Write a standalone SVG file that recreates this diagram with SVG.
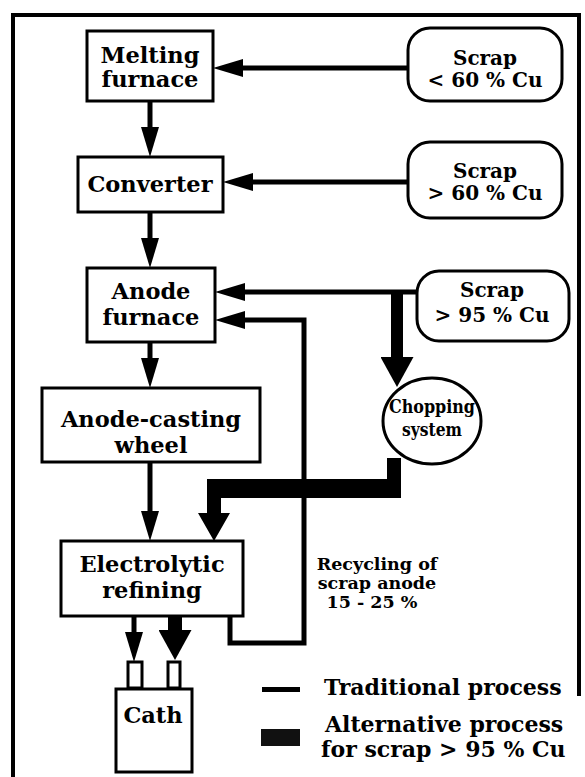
<svg xmlns="http://www.w3.org/2000/svg" width="585" height="777" viewBox="0 0 585 777">
<style>
.box{fill:#fff;stroke:#000;stroke-width:3}
.t{font-family:"DejaVu Serif","Liberation Serif",serif;font-weight:bold;fill:#000;text-anchor:middle}
.b{font-size:22.5px}
.s{font-size:20px}
.c{font-size:19px}
.r{font-size:17.5px}
.l{font-size:22px;text-anchor:start}
.thin{fill:none;stroke:#000;stroke-width:5;stroke-linejoin:miter}
.thick{fill:none;stroke:#000;stroke-width:14}
</style>
<defs>
<marker id="ah" viewBox="0 0 30 18" refX="2" refY="9" markerWidth="30" markerHeight="18" markerUnits="userSpaceOnUse" orient="auto"><path d="M0,0 L30,9 L0,18 Z" fill="#000"/></marker>
<marker id="ahk" viewBox="0 0 30 33" refX="2" refY="16.5" markerWidth="30" markerHeight="33" markerUnits="userSpaceOnUse" orient="auto"><path d="M0,0 L30,16.5 L0,33 Z" fill="#000"/></marker>
</defs>
<rect width="585" height="777" fill="#fff"/>
<path d="M13,777 V15 H579 V696" fill="none" stroke="#000" stroke-width="4"/>

<g id="connectors">
<path class="thin" d="M408,68 H241" marker-end="url(#ah)"/>
<path class="thin" d="M150,101 V129" marker-end="url(#ah)"/>
<path class="thin" d="M408,182 H251" marker-end="url(#ah)"/>
<path class="thin" d="M150,212 V240" marker-end="url(#ah)"/>
<path class="thin" d="M417,292 H243" marker-end="url(#ah)"/>
<path class="thin" d="M230,616 V643 H304 V320 H243" marker-end="url(#ah)"/>
<path class="thin" d="M150,342 V360" marker-end="url(#ah)"/>
<path class="thin" d="M150,462 V513" marker-end="url(#ah)"/>
<path class="thin" d="M134,616 V634" marker-end="url(#ah)"/>
<path class="thick" d="M397,290 V359" style="stroke-width:12" marker-end="url(#ahk)"/>
<path d="M387,458 H401 V498 H221 V513 H230 L214,541 L198,513 H207 V479 H387 Z" fill="#000"/>
<path class="thick" d="M175,616 V632" marker-end="url(#ahk)"/>
</g>

<g id="melting">
<rect class="box" x="87" y="31" width="126" height="70"/>
<text class="t b" x="150" y="63">Melting</text>
<text class="t b" x="150" y="87">furnace</text>
</g>
<g id="converter">
<rect class="box" x="78" y="157" width="145" height="55"/>
<text class="t b" x="150" y="192">Converter</text>
</g>
<g id="anode-furnace">
<rect class="box" x="87" y="268" width="128" height="74"/>
<text class="t b" x="151" y="299">Anode</text>
<text class="t b" x="151" y="325">furnace</text>
</g>
<g id="casting-wheel">
<rect class="box" x="42" y="388" width="218" height="74"/>
<text class="t b" x="151" y="427">Anode-casting</text>
<text class="t b" x="151" y="453">wheel</text>
</g>
<g id="electrolytic">
<rect class="box" x="61" y="541" width="182" height="75"/>
<text class="t b" x="152" y="572">Electrolytic</text>
<text class="t b" x="152" y="598">refining</text>
</g>
<g id="cath">
<rect class="box" x="128" y="662" width="14" height="26"/>
<rect class="box" x="168" y="662" width="12" height="26"/>
<rect class="box" x="116" y="689" width="76" height="83"/>
<text class="t b" x="153" y="723">Cath</text>
</g>
<g id="scrap60lt">
<rect class="box" x="408" y="28" width="154" height="73" rx="22"/>
<text class="t s" x="485" y="65">Scrap</text>
<text class="t s" x="485" y="87">&lt; 60 % Cu</text>
</g>
<g id="scrap60gt">
<rect class="box" x="408" y="142" width="154" height="76" rx="22"/>
<text class="t s" x="485" y="178">Scrap</text>
<text class="t s" x="485" y="200">&gt; 60 % Cu</text>
</g>
<g id="scrap95">
<rect class="box" x="417" y="271" width="152" height="70" rx="22"/>
<text class="t s" x="492" y="297">Scrap</text>
<text class="t s" x="492" y="322">&gt; 95 % Cu</text>
</g>
<g id="chopping">
<ellipse class="box" cx="432" cy="421" rx="49" ry="43"/>
<text class="t c" x="432" y="413" textLength="86" lengthAdjust="spacingAndGlyphs">Chopping</text>
<text class="t c" x="432" y="436" textLength="60" lengthAdjust="spacingAndGlyphs">system</text>
</g>
<g id="recycling-label">
<text class="t r" x="377" y="570">Recycling of</text>
<text class="t r" x="377" y="589">scrap anode</text>
<text class="t r" x="372" y="608">15 - 25 %</text>
</g>
<g id="legend">
<path d="M262,689.5 H300" stroke="#000" stroke-width="5"/>
<rect x="261" y="729" width="39" height="17" fill="#111"/>
<text class="t l" x="324" y="695">Traditional process</text>
<text class="t l" x="325" y="732">Alternative process</text>
<text class="t l" x="321" y="757">for scrap &gt; 95 % Cu</text>
</g>
</svg>
